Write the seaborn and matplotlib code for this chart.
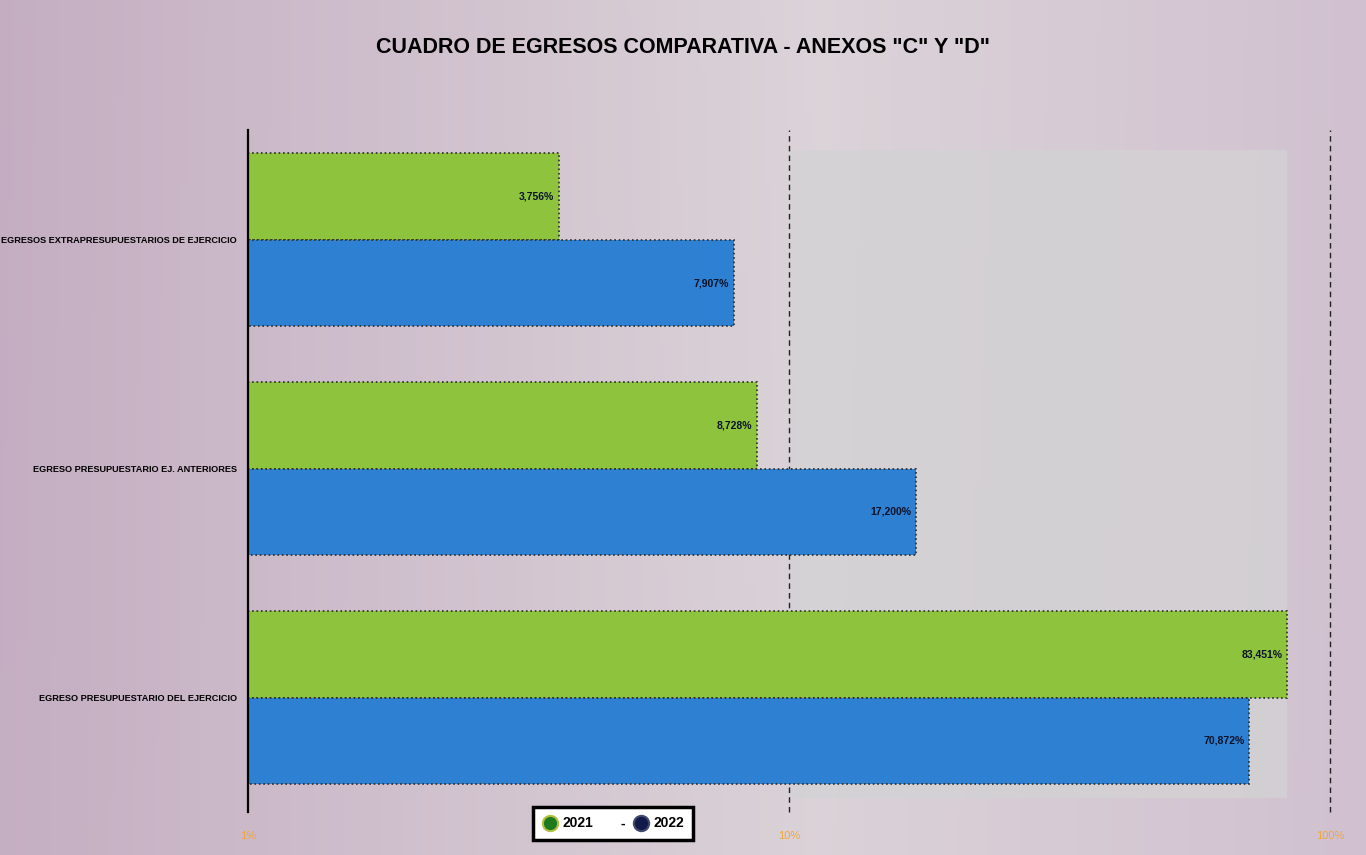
import matplotlib
matplotlib.use("Agg")
import matplotlib.pyplot as plt
import numpy as np
import pandas as pd
import seaborn as sns
from matplotlib.lines import Line2D
from matplotlib.patches import Rectangle

categories = [
    "EGRESOS EXTRAPRESUPUESTARIOS DE EJERCICIO",
    "EGRESO PRESUPUESTARIO EJ. ANTERIORES",
    "EGRESO PRESUPUESTARIO DEL EJERCICIO",
]
years = ["2021", "2022"]
values_2021 = [3.756, 8.728, 83.451]
values_2022 = [7.907, 17.200, 70.872]
tick_values = [1, 10, 100]
tick_labels = ["1%", "10%", "100%"]

df = pd.DataFrame({
    "categoria": categories * 2,
    "anio": [years[0]] * 3 + [years[1]] * 3,
    "valor": values_2021 + values_2022,
})

sns.set_theme(style="white")
font = ["Liberation Sans", "DejaVu Sans"]
plt.rcParams["font.family"] = font

fig = plt.figure(figsize=(13.66, 8.55), dpi=100)

# background gradient
bg = fig.add_axes([0, 0, 1, 1], zorder=-10)
bg.axis("off")
xs = np.linspace(0, 1, 300)
left = np.array([0.77, 0.68, 0.76])
mid = np.array([0.86, 0.83, 0.85])
right = np.array([0.80, 0.72, 0.80])
w = np.clip(1 - np.abs(xs - 0.6) / 0.6, 0, 1)[:, None]
row = np.where(xs[:, None] < 0.6, left * (1 - w) + mid * w, right * (1 - w) + mid * w)
img = np.tile(row[None, :, :], (60, 1, 1))
ys = np.linspace(0, 1, 60)[:, None, None]
img = img * (1 - 0.05 * ys) + 0.05 * ys * np.array([0.80, 0.74, 0.80])
bg.imshow(img, aspect="auto", extent=[0, 1, 0, 1])

ax = fig.add_axes([0.1816, 0.0503, 0.7920, 0.7977])
ax.patch.set_alpha(0)
ax.add_patch(Rectangle((0.5, 0.02), 0.46, 0.95, transform=ax.transAxes,
                       facecolor="#d3d2d4", edgecolor="none", alpha=0.8, zorder=0))
ax.set_xscale("log")

palette = {"2021": "#8dc33d", "2022": "#2e80d2"}
sns.barplot(data=df, y="categoria", x="valor", hue="anio", order=categories,
            hue_order=years, palette=palette, orient="h", width=0.755,
            saturation=1, edgecolor="#2a2a2a", linewidth=1.2,
            linestyle=":", legend=False, ax=ax, zorder=2)

ax.set_xlim(1, 100)
ax.set_ylim(2.5, -0.48)
ax.set_xticks(tick_values)
ax.set_xticklabels(tick_labels, color="#f2a53a", fontsize=8)
ax.xaxis.set_minor_locator(matplotlib.ticker.NullLocator())
ax.tick_params(axis="x", length=0, pad=14)
ax.tick_params(axis="y", length=0, pad=8)
for lab in ax.get_yticklabels():
    lab.set_fontsize(6.6)
    lab.set_fontweight("bold")
    lab.set_color("black")
ax.set_xlabel("")
ax.set_ylabel("")
for s in ["top", "right", "bottom"]:
    ax.spines[s].set_visible(False)
ax.spines["left"].set_color("black")
ax.spines["left"].set_linewidth(1.6)
for v in tick_values[1:]:
    ax.axvline(v, color="#222222", linestyle=(0, (4, 3)), linewidth=1.0,
               zorder=1, clip_on=False)

for cont in ax.containers:
    for bar in cont:
        val = bar.get_x() + bar.get_width()
        y = bar.get_y() + bar.get_height() / 2
        ax.text(val / 1.02, y, f"{val:.3f}%".replace(".", ","), ha="right",
                va="center", fontsize=7.5, fontweight="bold", color="#0c1228",
                zorder=3)

fig.text(0.5, 0.945, 'CUADRO DE EGRESOS COMPARATIVA - ANEXOS "C" Y "D"',
         ha="center", va="center", fontsize=15.5, fontweight="bold", color="black")

handles = [
    Line2D([], [], marker="o", linestyle="", markersize=11,
           markerfacecolor="#1f7a1f", markeredgecolor="#b0c040", markeredgewidth=1.5),
    Line2D([], [], linestyle="", marker=""),
    Line2D([], [], marker="o", linestyle="", markersize=11,
           markerfacecolor="#121a4a", markeredgecolor="#404a70", markeredgewidth=1.5),
]
leg = fig.legend(handles, ["2021", "-", "2022"], ncol=3, loc="center",
                 bbox_to_anchor=(0.449, 0.037), frameon=True, fancybox=False,
                 handletextpad=0.4, columnspacing=0.6, handlelength=1.0,
                 prop={"weight": "bold", "size": 10},
                 borderpad=0.7)
leg.get_frame().set_edgecolor("black")
leg.get_frame().set_linewidth(2.5)
leg.get_frame().set_facecolor("white")
leg.get_frame().set_alpha(1)
for t in leg.get_texts():
    t.set_color("black")

fig.savefig("out.png", dpi=100)
